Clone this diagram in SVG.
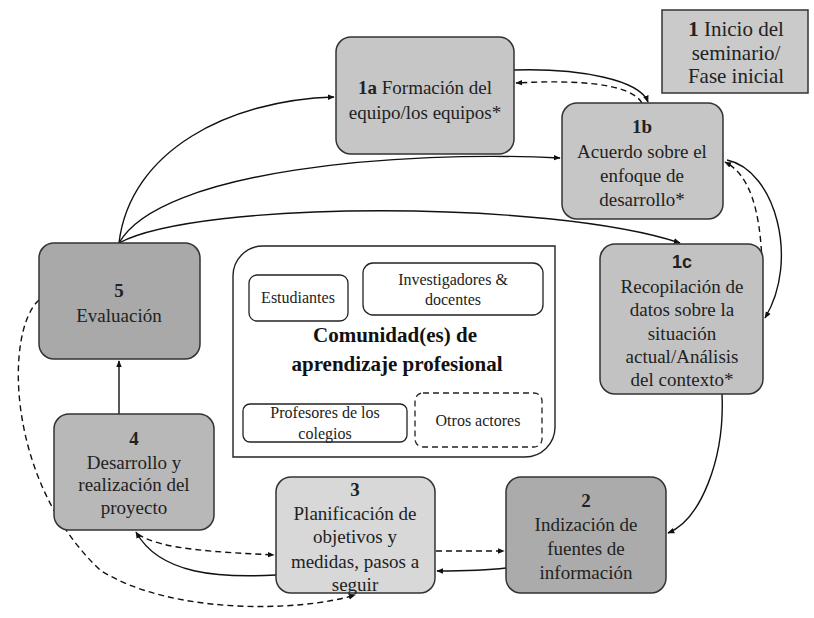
<svg xmlns="http://www.w3.org/2000/svg" width="814" height="618" viewBox="0 0 814 618">
<defs>
<marker id="ah" viewBox="0 0 10 10" refX="9" refY="5" markerWidth="7" markerHeight="7" orient="auto-start-reverse" markerUnits="userSpaceOnUse"><path d="M0,1 L10,5 L0,9 z" fill="#111"/></marker>
<style>
.n{stroke:#333;stroke-width:1.5}
text{font-family:"Liberation Serif","Times New Roman","DejaVu Serif",serif;fill:#222;text-anchor:middle}
.t{font-size:19px}
.t1{font-size:21px}
.s{font-size:16px}
.b{font-weight:bold}
.h{font-size:21px;font-weight:bold;fill:#111}
.c{fill:none;stroke:#111;stroke-width:1.4}
.d{stroke-dasharray:6 4}
.ib{fill:#fff;stroke:#222;stroke-width:1.3}
</style>
</defs>
<rect width="814" height="618" fill="#fff"/>
<g id="connectors">
<path class="c" d="M119,243 C130,150 230,100 334,97" marker-end="url(#ah)"/>
<path class="c" d="M119,243 C160,170 400,150 560,158" marker-end="url(#ah)"/>
<path class="c" d="M119,243 C200,200 550,200 680,243" marker-end="url(#ah)"/>
<path class="c" d="M514,70 C580,68 640,80 648,102" marker-end="url(#ah)"/>
<path class="c d" d="M642,103 C630,82 570,80 516,83" marker-end="url(#ah)"/>
<path class="c d" d="M762,262 C760,210 750,175 725,162" marker-end="url(#ah)"/>
<path class="c" d="M727,160 C775,170 800,260 765,318" marker-end="url(#ah)"/>
<path class="c" d="M722,394 C725,460 700,520 668,533" marker-end="url(#ah)"/>
<path class="c d" d="M436,551 L504,551" marker-end="url(#ah)"/>
<path class="c" d="M506,568 C490,570 470,571 437,571" marker-end="url(#ah)"/>
<path class="c" d="M276,575 C220,578 160,575 136,532" marker-end="url(#ah)"/>
<path class="c d" d="M138,534 C160,550 220,552 274,555" marker-end="url(#ah)"/>
<path class="c" d="M119,414 L119,361" marker-end="url(#ah)"/>
<path class="c d" d="M39,300 C5,330 5,480 100,570 C170,615 300,612 355,595" marker-end="url(#ah)"/>
</g>
<g id="n1">
<rect class="n" x="662" y="10" width="146" height="83" fill="#cacaca"/>
<text class="t1" x="736" y="36"><tspan class="b">1</tspan> Inicio del</text>
<text class="t1" x="736" y="60">seminario/</text>
<text class="t1" x="736" y="83">Fase inicial</text>
</g>
<g id="n1a">
<rect class="n" x="336" y="37" width="178" height="117" rx="15" fill="#c6c6c6"/>
<text class="t" x="425" y="94"><tspan class="b">1a</tspan> Formación del</text>
<text class="t" x="425" y="119">equipo/los equipos*</text>
</g>
<g id="n1b">
<rect class="n" x="562" y="103" width="161" height="116" rx="15" fill="#c6c6c6"/>
<text class="t b" x="642" y="133">1b</text>
<text class="t" x="642" y="158">Acuerdo sobre el</text>
<text class="t" x="642" y="182">enfoque de</text>
<text class="t" x="642" y="206">desarrollo*</text>
</g>
<g id="n1c">
<rect class="n" x="600" y="244" width="163" height="150" rx="15" fill="#c2c2c2"/>
<text class="t b" x="682" y="268" style="font-family:'Liberation Sans',Arial,sans-serif;font-size:18px">1c</text>
<text class="t" x="682" y="293">Recopilación de</text>
<text class="t" x="682" y="316">datos sobre la</text>
<text class="t" x="682" y="340">situación</text>
<text class="t" x="682" y="363">actual/Análisis</text>
<text class="t" x="682" y="386">del contexto*</text>
</g>
<g id="n5">
<rect class="n" x="39" y="243" width="161" height="116" rx="15" fill="#a9a9a9"/>
<text class="t b" x="119" y="297">5</text>
<text class="t" x="119" y="322">Evaluación</text>
</g>
<g id="n4">
<rect class="n" x="54" y="414" width="160" height="116" rx="15" fill="#b8b8b8"/>
<text class="t b" x="134" y="445">4</text>
<text class="t" x="134" y="469">Desarrollo y</text>
<text class="t" x="134" y="491">realización del</text>
<text class="t" x="134" y="514">proyecto</text>
</g>
<g id="n3">
<rect class="n" x="276" y="477" width="159" height="116" rx="15" fill="#d8d8d8"/>
<text class="t b" x="355" y="496">3</text>
<text class="t" x="355" y="520">Planificación de</text>
<text class="t" x="355" y="543">objetivos y</text>
<text class="t" x="355" y="568">medidas, pasos a</text>
<text class="t" x="355" y="591">seguir</text>
</g>
<g id="n2">
<rect class="n" x="506" y="477" width="160" height="116" rx="15" fill="#ababab"/>
<text class="t b" x="586" y="507">2</text>
<text class="t" x="586" y="531">Indización de</text>
<text class="t" x="586" y="555">fuentes de</text>
<text class="t" x="586" y="579">información</text>
</g>
<g id="community">
<path d="M263,246 L555,246 L555,427 A30,30 0 0 1 525,457 L233,457 L233,276 A30,30 0 0 1 263,246 Z" fill="#fff" stroke="#222" stroke-width="1.4"/>
<text class="h" x="395" y="342">Comunidad(es) de</text>
<text class="h" x="397" y="371">aprendizaje profesional</text>
</g>
<g id="estudiantes">
<rect class="ib" x="249" y="275" width="99" height="46" rx="8"/>
<text class="s" x="298" y="303">Estudiantes</text>
</g>
<g id="investigadores">
<rect class="ib" x="363" y="263" width="180" height="52" rx="10"/>
<text class="s" x="453" y="285">Investigadores &amp;</text>
<text class="s" x="453" y="305">docentes</text>
</g>
<g id="profesores">
<rect class="ib" x="243" y="404" width="164" height="38" rx="7"/>
<text class="s" x="325" y="418">Profesores de los</text>
<text class="s" x="325" y="439">colegios</text>
</g>
<g id="otros">
<rect class="ib d" x="415" y="393" width="127" height="54" rx="8"/>
<text class="s" x="478" y="426">Otros actores</text>
</g>
</svg>
